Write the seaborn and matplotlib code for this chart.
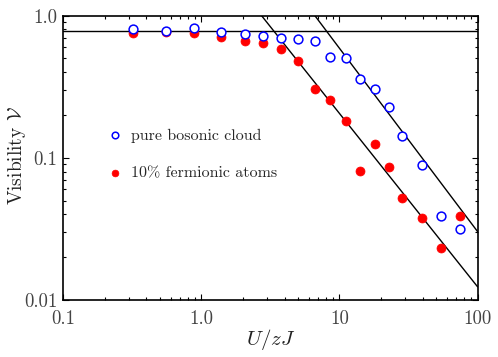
import numpy as np
import pandas as pd
import matplotlib
matplotlib.use("Agg")
import matplotlib.pyplot as plt
import matplotlib.ticker as mticker
import seaborn as sns

# ---- data ----
boson_x = [0.321, 0.554, 0.887, 1.379, 2.06, 2.81, 3.79, 5.03, 6.64, 8.53, 11.07, 14.1, 18.1, 22.7, 28.4, 39.7, 54.5, 74.5]
boson_v = [0.802, 0.784, 0.815, 0.768, 0.740, 0.720, 0.699, 0.686, 0.661, 0.515, 0.502, 0.357, 0.303, 0.226, 0.1425, 0.0891, 0.0388, 0.0317]

fermi_x = [0.321, 0.554, 0.887, 1.379, 2.06, 2.81, 3.79, 5.03, 6.64, 8.53, 11.07, 14.1, 18.1, 22.7, 28.4, 39.7, 54.5, 74.5]
fermi_v = [0.759, 0.768, 0.752, 0.712, 0.661, 0.638, 0.580, 0.482, 0.303, 0.254, 0.1816, 0.0804, 0.1258, 0.0862, 0.0519, 0.0379, 0.0231, 0.0390]

# fitted guide lines: V = (x / x0) ** (-p), and constant level
fit_x0 = [2.73, 6.64]
fit_p = [1.22, 1.29]
flat_level = 0.784

labels = ["pure bosonic cloud", "10% fermionic atoms"]
xticks = [0.1, 1.0, 10, 100]
xtick_labels = ["0.1", "1.0", "10", "100"]
yticks = [0.01, 0.1, 1.0]
ytick_labels = ["0.01", "0.1", "1.0"]

# ---- style ----
sns.set_style("ticks")
plt.rcParams["font.family"] = ["cmr10", "DejaVu Serif"]
plt.rcParams["mathtext.fontset"] = "cm"
plt.rcParams["axes.formatter.use_mathtext"] = True

fig = plt.figure(figsize=(4.98, 3.57), dpi=100)
ax = fig.add_axes([0.127, 0.160, 0.832, 0.796])
ax.set_xscale("log")
ax.set_yscale("log")

# guide lines
xx = np.logspace(-1, 2, 200)
line_df = pd.DataFrame({"x": np.concatenate([xx, xx]),
                        "v": np.concatenate([(xx / fit_x0[0]) ** (-fit_p[0]),
                                             (xx / fit_x0[1]) ** (-fit_p[1])]),
                        "g": ["a"] * len(xx) + ["b"] * len(xx)})
sns.lineplot(data=line_df, x="x", y="v", units="g", estimator=None,
             color="black", lw=1.0, ax=ax, legend=False)
flat_df = pd.DataFrame({"x": [0.1, 100], "v": [flat_level, flat_level]})
sns.lineplot(data=flat_df, x="x", y="v", color="black", lw=1.0, ax=ax, legend=False)

# data points
fd = pd.DataFrame({"x": fermi_x, "v": fermi_v})
bd = pd.DataFrame({"x": boson_x, "v": boson_v})
sns.scatterplot(data=fd, x="x", y="v", color="#ff0000", edgecolor="#ff0000",
                s=42, linewidth=0.5, ax=ax, zorder=3, label=labels[1])
sns.scatterplot(data=bd, x="x", y="v", facecolor="white", edgecolor="#0000ff",
                s=40, linewidth=1.1, ax=ax, zorder=4, label=labels[0])

ax.set_xlim(0.1, 100)
ax.set_ylim(0.01, 1.0)

ax.xaxis.set_major_locator(mticker.FixedLocator(xticks))
ax.xaxis.set_major_formatter(mticker.FixedFormatter(xtick_labels))
ax.yaxis.set_major_locator(mticker.FixedLocator(yticks))
ax.yaxis.set_major_formatter(mticker.FixedFormatter(ytick_labels))
ax.xaxis.set_minor_locator(mticker.LogLocator(base=10, subs=np.arange(2, 10)))
ax.yaxis.set_minor_locator(mticker.LogLocator(base=10, subs=np.arange(2, 10)))
ax.xaxis.set_minor_formatter(mticker.NullFormatter())
ax.yaxis.set_minor_formatter(mticker.NullFormatter())

ax.tick_params(which="both", direction="in", top=True, right=True, color="black",
               labelsize=13.5, labelcolor="#444444", width=0.8)
ax.tick_params(which="major", length=4.5)
ax.tick_params(axis="x", which="major", pad=7)
ax.tick_params(axis="y", which="major", pad=4)
ax.tick_params(which="minor", length=2.5)
for sp in ax.spines.values():
    sp.set_linewidth(1.2)
    sp.set_color("black")

ax.set_xlabel(r"$U/zJ$", fontsize=15, color="#222222")
ax.xaxis.set_label_coords(0.5, -0.095)
ax.set_ylabel(r"Visibility $\mathcal{V}$", fontsize=14, color="#222222")
ax.yaxis.set_label_coords(-0.085, 0.51)

handles, labs = ax.get_legend_handles_labels()
order = [labs.index(labels[0]), labs.index(labels[1])]
leg = ax.legend([handles[i] for i in order], [labs[i] for i in order],
                loc="upper left", bbox_to_anchor=(0.07, 0.626), frameon=False,
                fontsize=11.5, handletextpad=0.05, labelspacing=1.45,
                markerscale=0.75, borderaxespad=0)

fig.savefig("out.png", dpi=100)
